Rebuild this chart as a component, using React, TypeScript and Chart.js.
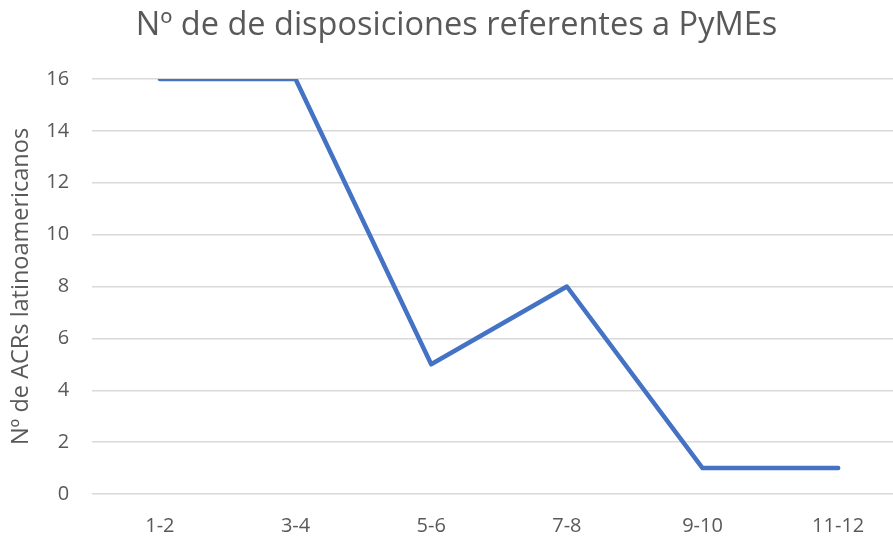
import React, { useEffect, useRef } from "react";
import { Chart, registerables } from "chart.js";

Chart.register(...registerables);

const categories = ["1-2", "3-4", "5-6", "7-8", "9-10", "11-12"];
const values = [16, 16, 5, 8, 1, 1];
const titleText = "Nº de de disposiciones referentes a PyMEs";
const yTitle = "Nº de ACRs latinoamericanos";

export default function App() {
  const ref = useRef<HTMLCanvasElement>(null);
  useEffect(() => {
    if (!ref.current) return;
    const chart = new Chart(ref.current, {
      type: "line",
      data: {
        labels: categories,
        datasets: [
          {
            data: values,
            borderColor: "#4472C4",
            borderWidth: 4.5,
            pointRadius: 0,
            tension: 0,
            borderCapStyle: "round",
            borderJoinStyle: "round",
          },
        ],
      },
      options: {
        responsive: false,
        animation: false,
        layout: { padding: { left: 7, right: 4, top: 6, bottom: 2 } },
        plugins: {
          legend: { display: false },
          tooltip: { enabled: false },
          title: {
            display: true,
            text: titleText,
            color: "#595959",
            font: { family: "Open Sans", size: 32.5, weight: "normal" },
            padding: { top: 0, bottom: 34 },
          },
        },
        scales: {
          x: {
            offset: true,
            grid: { display: false },
            border: { display: false },
            ticks: { color: "#595959", font: { family: "Open Sans", size: 20 }, padding: 12 },
          },
          y: {
            min: 0,
            max: 16,
            ticks: { stepSize: 2, color: "#595959", font: { family: "Open Sans", size: 20 }, padding: 23 },
            grid: { color: "#D9D9D9", lineWidth: 1.5, drawTicks: false },
            border: { display: false },
            title: {
              display: true,
              text: yTitle,
              color: "#595959",
              font: { family: "Open Sans", size: 23.5 },
              padding: { top: 0, bottom: -12 },
            },
          },
        },
      },
    });
    return () => chart.destroy();
  }, []);
  return (
    <div style={{ position: "fixed", left: 0, top: 0, width: 893, height: 540, overflow: "hidden", background: "#fff" }}>
      <canvas ref={ref} width={910} height={552} style={{ display: "block" }} />
    </div>
  );
}
